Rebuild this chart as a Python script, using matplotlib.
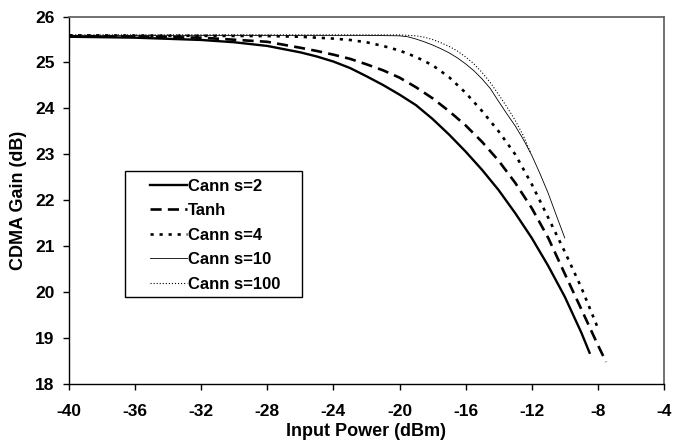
import numpy as np
import matplotlib.pyplot as plt
from matplotlib.patches import Rectangle

plt.rcParams['font.family'] = ['Liberation Sans', 'DejaVu Sans']
plt.rcParams['font.weight'] = 'bold'
plt.rcParams['lines.scale_dashes'] = False
plt.rcParams['axes.unicode_minus'] = False

# Values
x_s2 = [-40, -36, -32, -30, -28, -26, -25, -24, -23, -22, -21, -20, -19, -18, -17,
        -16, -15, -14, -13, -12, -11, -10, -9, -8.5]
y_s2 = [25.56, 25.54, 25.49, 25.44, 25.36, 25.22, 25.13, 25.02, 24.88, 24.70, 24.51,
        24.30, 24.07, 23.77, 23.43, 23.06, 22.66, 22.22, 21.72, 21.18, 20.57, 19.90,
        19.12, 18.68]

x_tanh = [-40, -36, -32, -28, -26, -25, -24, -23, -22, -21, -20, -19, -18, -17, -16,
          -15, -14, -13, -12, -11, -10, -9, -8, -7.5]
y_tanh = [25.57, 25.56, 25.54, 25.45, 25.32, 25.25, 25.17, 25.08, 24.96, 24.83, 24.67,
          24.46, 24.22, 23.94, 23.63, 23.27, 22.86, 22.38, 21.83, 21.18, 20.40, 19.63,
          18.85, 18.48]

x_s4 = [-40, -32, -28, -26, -25, -24, -23, -22, -21, -20, -19, -18, -17, -16, -15,
        -14, -13, -12, -11, -10, -9, -8]
y_s4 = [25.59, 25.58, 25.575, 25.56, 25.54, 25.52, 25.49, 25.44, 25.36, 25.26, 25.12,
        24.94, 24.68, 24.34, 23.94, 23.50, 23.00, 22.35, 21.62, 20.88, 20.10, 19.22]

x_s10 = [-40, -22, -20, -19.5, -19, -18.5, -18, -17.5, -17, -16.5, -16, -15.5, -15,
         -14.5, -14, -13.5, -13, -12.5, -12, -11.5, -11, -10.5, -10]
y_s10 = [25.59, 25.59, 25.58, 25.56, 25.51, 25.45, 25.38, 25.30, 25.21, 25.10, 24.97,
         24.82, 24.64, 24.43, 24.15, 23.88, 23.62, 23.32, 22.98, 22.58, 22.15, 21.66,
         21.18]

x_s100 = [-40, -20, -19, -18.5, -18, -17.5, -17, -16.5, -16, -15.5, -15, -14.5, -14,
          -13.5, -13, -12.5, -12.05]
y_s100 = [25.60, 25.60, 25.58, 25.55, 25.50, 25.43, 25.35, 25.25, 25.12, 24.97, 24.78,
          24.56, 24.30, 24.03, 23.74, 23.40, 23.02]

labels = ['Cann s=2', 'Tanh', 'Cann s=4', 'Cann s=10', 'Cann s=100']
x_ticks = np.arange(-40, -3, 4)
y_ticks = np.arange(18, 27, 1)

fig = plt.figure(figsize=(6.88, 4.47), dpi=100)
ax = fig.add_axes([0.1003, 0.141, 0.8647, 0.822])

ax.plot(x_s2, y_s2, color='black', lw=1.7, label=labels[0])
ax.plot(x_tanh, y_tanh, color='black', lw=1.9, dashes=(8, 4.5), label=labels[1])
ax.plot(x_s4, y_s4, color='black', lw=1.9, dashes=(2.3, 4.2), label=labels[2])
ax.plot(x_s10, y_s10, color='black', lw=0.6, label=labels[3])
ax.plot(x_s100, y_s100, color='black', lw=0.8, dashes=(0.8, 1.4), label=labels[4])

ax.set_xlim(-40, -4)
ax.set_ylim(18, 26)
ax.set_xticks(x_ticks)
ax.set_yticks(y_ticks)
ax.tick_params(direction='out', length=4.5, width=1, labelsize=12.5)
ax.tick_params(axis='x', pad=10)
ax.tick_params(axis='y', pad=6)

for side in ['top', 'right']:
    ax.spines[side].set_color('#666666')
    ax.spines[side].set_linewidth(1.3)
for side in ['left', 'bottom']:
    ax.spines[side].set_color('black')
    ax.spines[side].set_linewidth(1)

ax.set_xlabel('Input Power (dBm)', fontsize=13, fontweight='bold', labelpad=3)
ax.set_ylabel('CDMA Gain (dB)', fontsize=13, fontweight='bold', labelpad=6)

# legend box
ax.add_patch(Rectangle((0.094, 0.2367), 0.2976, 0.3429, transform=ax.transAxes,
                       fill=False, ec='black', lw=1, zorder=5))
ax.legend(loc='center left', bbox_to_anchor=(0.136, 0.405), fontsize=12,
          frameon=False, handlelength=2.2, handletextpad=0.1, labelspacing=0.57,
          borderpad=0, borderaxespad=0)

fig.savefig('out.png', dpi=100)
